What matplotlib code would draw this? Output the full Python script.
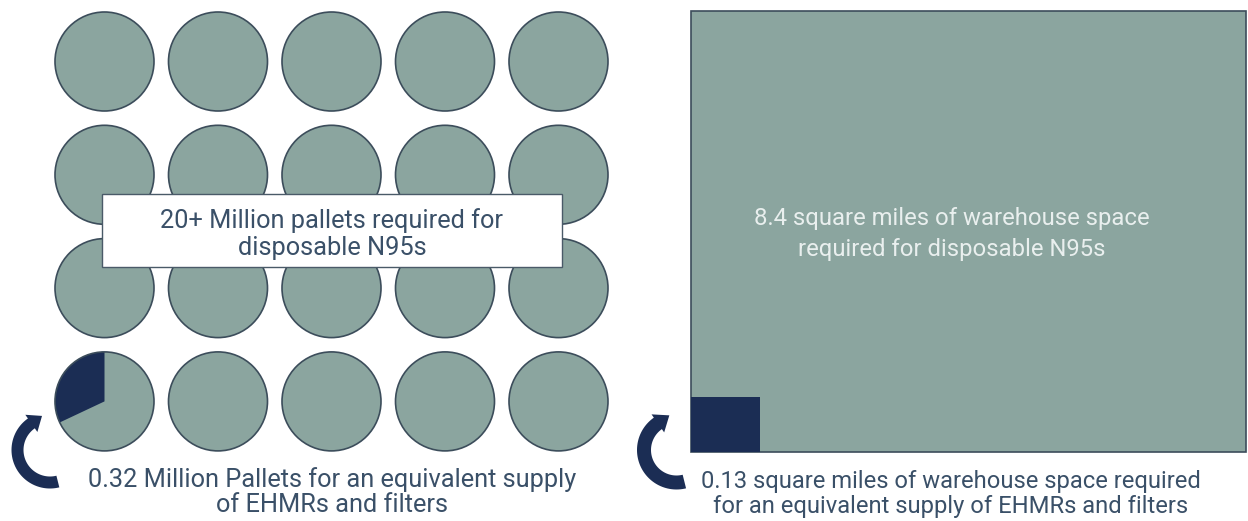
import numpy as np
import matplotlib
matplotlib.use("Agg")
import matplotlib.pyplot as plt
from matplotlib.patches import Circle, Wedge, Rectangle, Polygon

# ---- data ----
n95_million_pallets = 20          # 20+ million pallets (one circle = 1 million)
ehmr_million_pallets = 0.32       # 0.32 million pallets
n95_sq_miles = 8.4
ehmr_sq_miles = 0.13
grid_cols = 5
grid_rows = 4

box_text = "20+ Million pallets required for\ndisposable N95s"
rect_text = "8.4 square miles of warehouse space\nrequired for disposable N95s"
left_caption = "0.32 Million Pallets for an equivalent supply\nof EHMRs and filters"
right_caption = "0.13 square miles of warehouse space required\nfor an equivalent supply of EHMRs and filters"

# ---- style ----
FILL = "#8ba59f"
EDGE = "#3c4d5b"
NAVY = "#1b2d54"
TXT = "#3a5068"
LIGHT = "#e9efee"
FONT = "Roboto"

W, H = 1248, 521
fig = plt.figure(figsize=(W / 100, H / 100), dpi=100)
ax = fig.add_axes([0, 0, 1, 1])
ax.set_xlim(0, W)
ax.set_ylim(H, 0)
ax.axis("off")

# circles grid
x0, y0, dx, dy, r = 104.5, 61.5, 113.5, 113.3, 49.5
for i in range(n95_million_pallets):
    row, col = divmod(i, grid_cols)
    cx, cy = x0 + col * dx, y0 + row * dy
    ax.add_patch(Circle((cx, cy), r, facecolor=FILL, edgecolor="none", zorder=1))
    if row == grid_rows - 1 and col == 0:
        span = ehmr_million_pallets * 360
        ax.add_patch(Wedge((cx, cy), r, 270 - span, 270, facecolor=NAVY,
                           edgecolor="none", zorder=2))
    ax.add_patch(Circle((cx, cy), r, facecolor="none", edgecolor=EDGE,
                        linewidth=1.2, zorder=3))

# white label box
ax.add_patch(Rectangle((102, 194), 460, 73, facecolor="white", edgecolor="#4a5a68",
                       linewidth=1.0, zorder=5))
ax.text(332, 234, box_text, ha="center", va="center", fontsize=18.3, color=TXT,
        family=FONT, linespacing=1.16, zorder=6)

# warehouse rectangle
rx, ry, rw, rh = 691, 11, 555, 441
ax.add_patch(Rectangle((rx, ry), rw, rh, facecolor=FILL, edgecolor=EDGE,
                       linewidth=1.2, zorder=1))
f = np.sqrt(ehmr_sq_miles / n95_sq_miles)
ax.add_patch(Rectangle((rx, ry + rh - rh * f), rw * f, rh * f, facecolor=NAVY,
                       edgecolor="none", zorder=2))
ax.text(952, 234, rect_text, ha="center", va="center", fontsize=17.2, color=LIGHT,
        family=FONT, linespacing=1.4, zorder=3)

# captions
ax.text(332, 492.5, left_caption, ha="center", va="center", fontsize=18.3, color=TXT,
        family=FONT, linespacing=1.05)
ax.text(951, 494, right_caption, ha="center", va="center", fontsize=17.1, color=TXT,
        family=FONT, linespacing=1.16)


def curved_arrow(cx, cy, rad, width, a0, a1, head_hw, head_len):
    th = np.radians(np.linspace(a0, a1, 60))
    outer = np.c_[cx + (rad + width / 2) * np.cos(th), cy + (rad + width / 2) * np.sin(th)]
    inner = np.c_[cx + (rad - width / 2) * np.cos(th), cy + (rad - width / 2) * np.sin(th)]
    t = th[-1]
    radial = np.array([np.cos(t), np.sin(t)])
    tang = np.array([-np.sin(t), np.cos(t)])
    mid = np.array([cx, cy]) + rad * radial
    head = [mid + head_hw * radial, mid + head_len * tang, mid - head_hw * radial]
    pts = np.vstack([outer, head[0], head[1], head[2], inner[::-1]])
    ax.add_patch(Polygon(pts, closed=True, facecolor=NAVY, edgecolor="none", zorder=4))


curved_arrow(50, 450, 32.5, 12, 76, 235, 10.5, 13)
curved_arrow(676.5, 450, 32.5, 14, 76, 235, 11, 14)

fig.savefig("out.png", dpi=100)
